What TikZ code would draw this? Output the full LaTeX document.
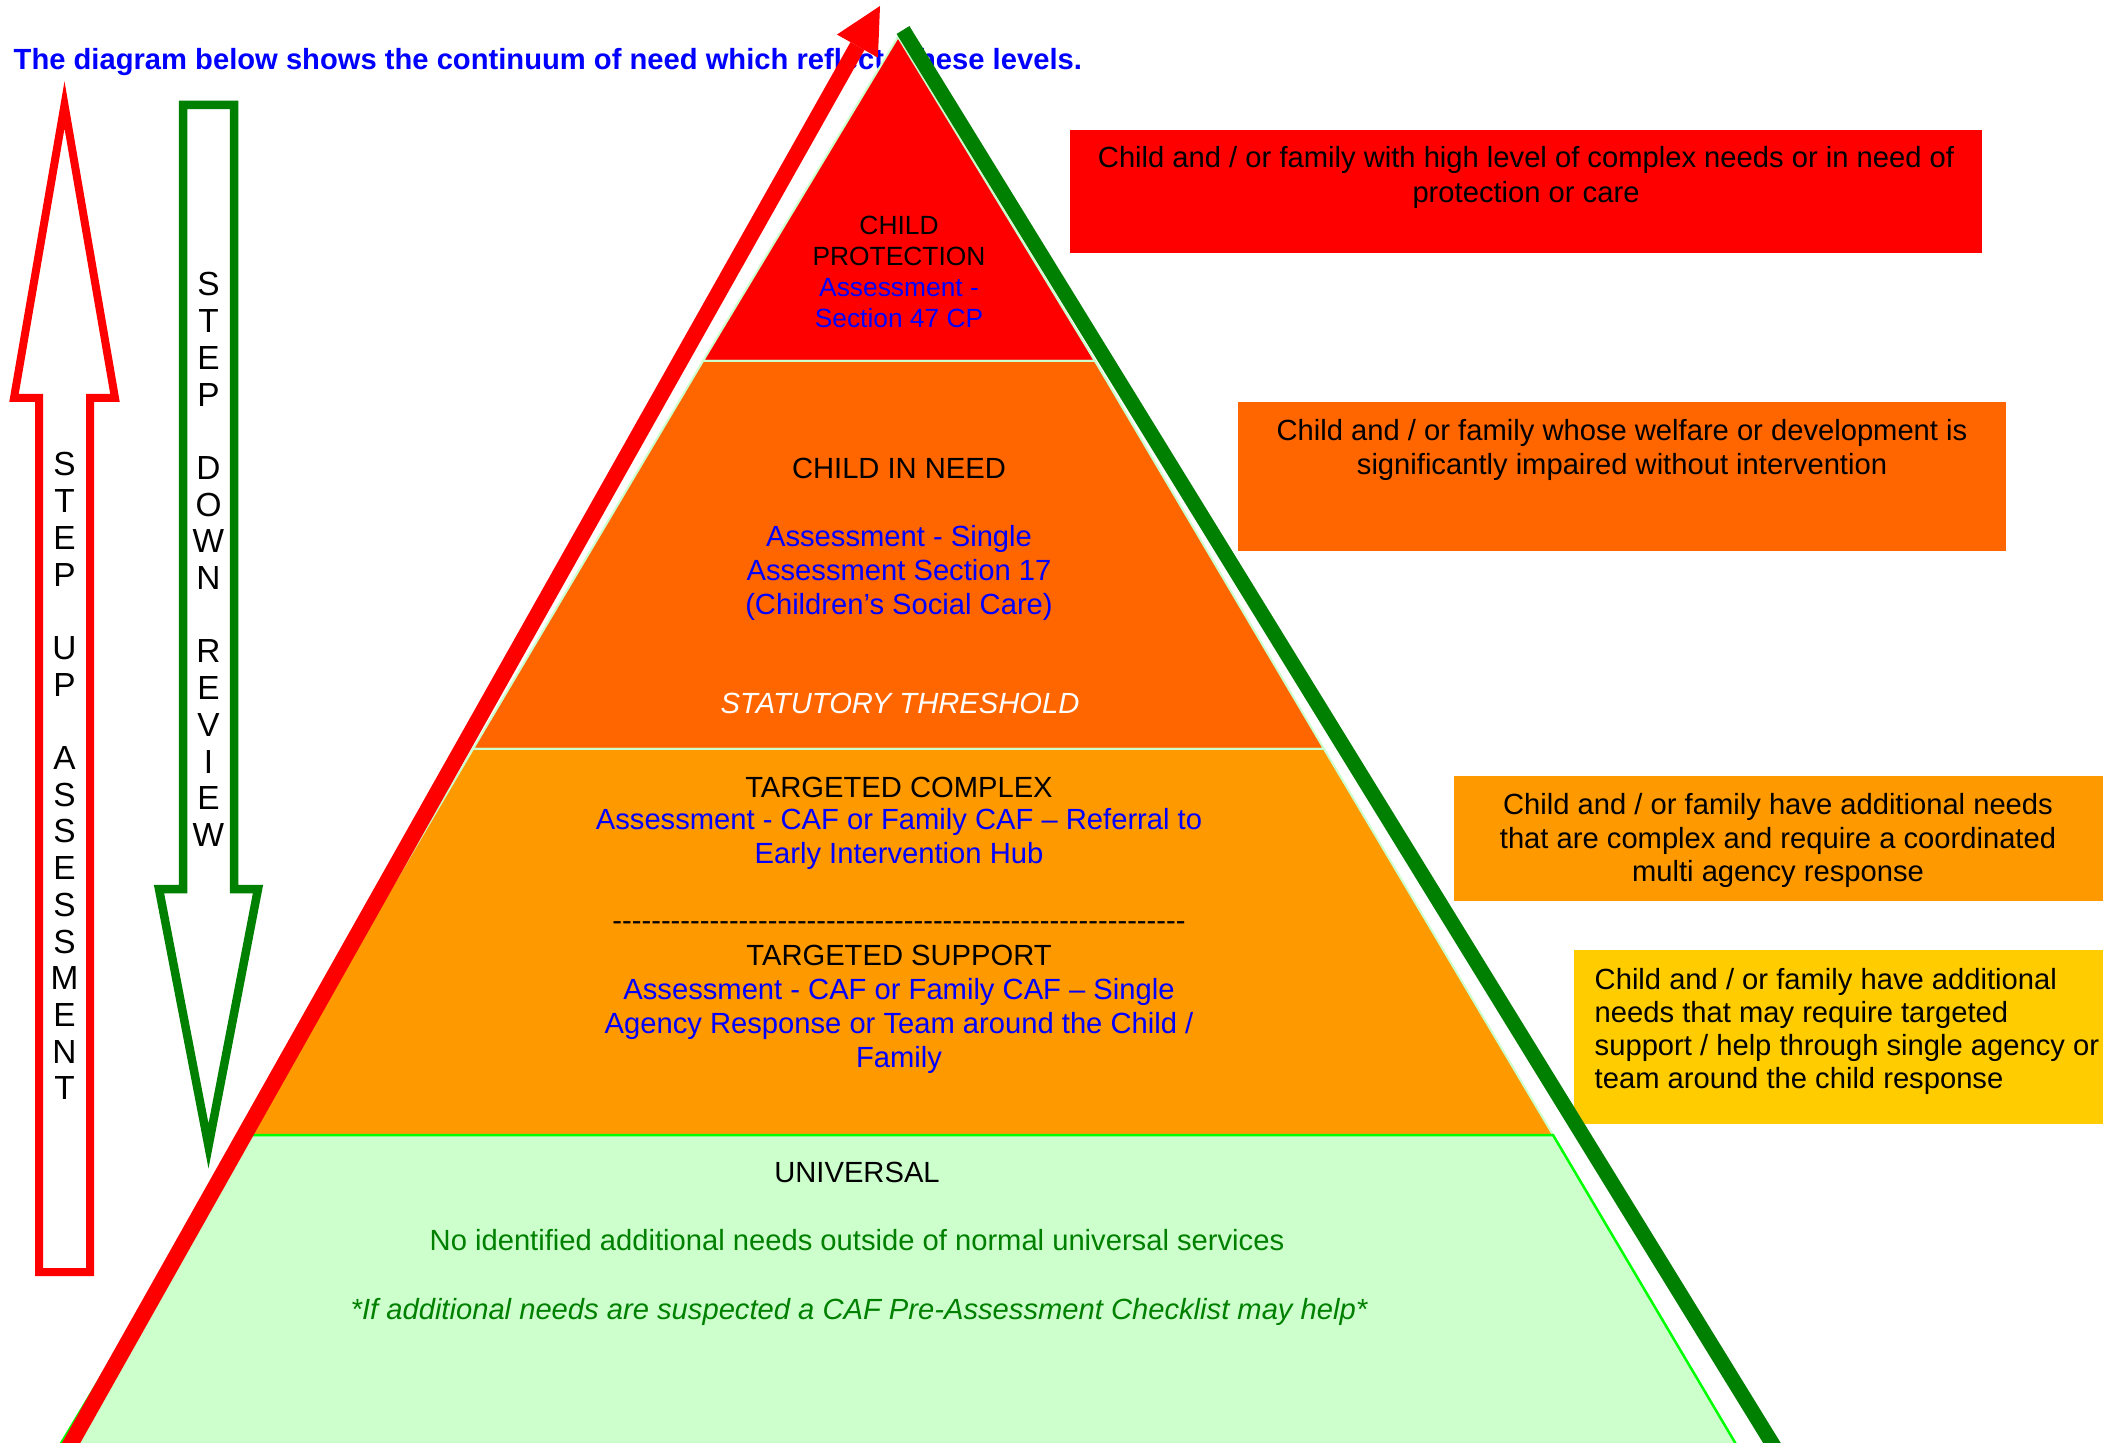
\documentclass[tikz,border=0pt]{standalone}
\usepackage{fontspec}
\setmainfont{Liberation Sans}
\usetikzlibrary{arrows.meta}

\definecolor{cpred}{HTML}{FF0000}
\definecolor{cinorange}{HTML}{FF6600}
\definecolor{tgorange}{HTML}{FF9900}
\definecolor{tsyellow}{HTML}{FFCC00}
\definecolor{unigreen}{HTML}{CCFFCC}
\definecolor{uniedge}{HTML}{00FF00}
\definecolor{darkgreen}{HTML}{008000}
\definecolor{txtblue}{HTML}{0000FF}

\newcommand{\dashrowtext}{\foreach \k in {1,...,59}{-\kern0pt}}

\tikzset{
  lvl/.style={font=\fontsize{8.3}{10}\selectfont, anchor=base, inner sep=0pt},
  cplvl/.style={lvl, font=\fontsize{7.5}{9}\selectfont},
  vletter/.style={font=\fontsize{9.5}{11}\selectfont, anchor=base, inner sep=0pt},
  layer/.style={draw=unigreen, line width=0.2mm},
}

\begin{document}
\begin{tikzpicture}[x=0.1mm, y=-0.1mm]
  \useasboundingbox (0,0) rectangle (2103,1443);
  \clip (0,0) rectangle (2103,1443);

  % heading
  \node[lvl, anchor=base west, font=\fontsize{8.3}{10}\selectfont\bfseries, text=txtblue] (title) at (13,70)
    {The diagram below shows the continuum of need which reflects these levels.};

  % pyramid levels
  \fill[layer, fill=cpred] (898,37) -- (1095,361) -- (703,361) -- cycle;
  \fill[layer, fill=cinorange] (703,361) -- (1095,361) -- (1324,749) -- (473,749) -- cycle;
  \fill[layer, fill=tgorange] (473,749) -- (1324,749) -- (1553,1135) -- (246,1135) -- cycle;
  \filldraw[fill=unigreen, draw=uniedge, line width=0.25mm] (246,1135) -- (1553,1135) -- (1769,1500) -- (27,1500) -- cycle;

  % level texts
  \foreach \y/\c/\t [count=\i] in {235/black/CHILD, 266/black/PROTECTION,
      297/txtblue/{Assessment -}, 328/txtblue/{Section 47 CP}}
    \node[cplvl, text=\c] (cp\i) at (899,\y) {\t};
  \foreach \y/\c/\t [count=\i] in {479/black/{CHILD IN NEED}, 547/txtblue/{Assessment - Single},
      581/txtblue/{Assessment Section 17}, 615/txtblue/{(Children’s Social Care)}}
    \node[lvl, text=\c] (cin\i) at (899,\y) {\t};
  \node[lvl, text=white, font=\fontsize{8.3}{10}\selectfont\itshape] (threshold) at (900,714) {STATUTORY THRESHOLD};
  \foreach \y/\c/\t [count=\i] in {797/black/{TARGETED COMPLEX},
      830/txtblue/{Assessment - CAF or Family CAF – Referral to}, 864/txtblue/{Early Intervention Hub},
      965/black/{TARGETED SUPPORT}, 999/txtblue/{Assessment - CAF or Family CAF – Single},
      1033/txtblue/{Agency Response or Team around the Child /}, 1067/txtblue/{Family}}
    \node[lvl, text=\c] (tg\i) at (899,\y) {\t};
  \node[lvl] (dashrow) at (899,930) {\dashrowtext};
  \node[lvl] (universal) at (857,1182) {UNIVERSAL};
  \node[lvl, text=darkgreen] (noneeds) at (857,1250) {No identified additional needs outside of normal universal services};
  \node[lvl, text=darkgreen, font=\fontsize{8.3}{10}\selectfont\itshape] (checklist) at (859,1319)
    {*If additional needs are suspected a CAF Pre-Assessment Checklist may help*};

  % boxes on the right
  \fill[cpred] (1070,130) rectangle (1982,253);
  \fill[cinorange] (1238,402) rectangle (2006,551);
  \fill[tgorange] (1454,776) rectangle (2110,901);
  \fill[tsyellow] (1574,950) rectangle (2110,1124);
  \foreach \y/\t [count=\i] in {168/{Child and / or family with high level of complex needs or in need of},
      203/{protection or care}}
    \node[lvl] (cpbox\i) at (1526,\y) {\t};
  \foreach \y/\t [count=\i] in {441/{Child and / or family whose welfare or development is},
      475/{significantly impaired without intervention}}
    \node[lvl] (cinbox\i) at (1622,\y) {\t};
  \foreach \y/\t [count=\i] in {815/{Child and / or family have additional needs},
      848/{that are complex and require a coordinated}, 881/{multi agency response}}
    \node[lvl] (tgbox\i) at (1778,\y) {\t};
  \foreach \y/\t [count=\i] in {989/{Child and / or family have additional},
      1022/{needs that may require targeted}, 1055/{support / help through single agency or},
      1088/{team around the child response}}
    \node[lvl, anchor=base west] (tsbox\i) at (1594,\y) {\t};

  % step up / step down arrows
  \draw[cpred, line width=0.8mm] (64.5,105) -- (115,398) -- (90,398) -- (90,1272)
    -- (39,1272) -- (39,398) -- (14,398) -- cycle;
  \draw[darkgreen, line width=0.85mm] (183,105) -- (234,105) -- (234,889) -- (258,889)
    -- (208.5,1146) -- (159,889) -- (183,889) -- cycle;
  \foreach \c [count=\i] in {S,T,E,P,{},U,P,{},A,S,S,E,S,S,M,E,N,T}
    \node[vletter] (up\i) at (64.5,{476+36.7*(\i-1)}) {\c};
  \foreach \c [count=\i] in {S,T,E,P,{},D,O,W,N,{},R,E,V,I,E,W}
    \node[vletter] (down\i) at (208.5,{296+36.7*(\i-1)}) {\c};

  % diagonal arrows along the pyramid
  \draw[cpred, line width=1.6mm, -{Triangle[length=4.6mm, width=4.7mm, line width=0pt]}] (39,1500) -- (880,6);
  \draw[darkgreen, line width=1.5mm] (903,30) -- (1807,1500);
\end{tikzpicture}
\end{document}
